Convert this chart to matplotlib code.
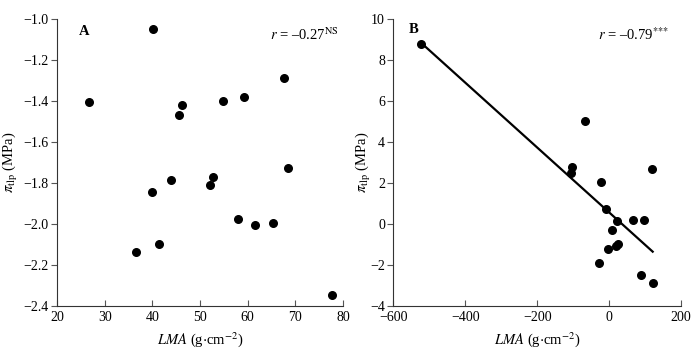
import numpy as np
import matplotlib
matplotlib.use("Agg")
import matplotlib.pyplot as plt

plt.rcParams['font.family'] = ['Liberation Serif', 'DejaVu Serif']
plt.rcParams['mathtext.fontset'] = 'stix'
plt.rcParams['font.size'] = 10.5

# panel A: LMA vs turgor loss point
lma_a = [40.1, 26.7, 45.7, 46.2, 54.9, 59.3, 67.6, 68.5, 43.9, 52.8,
         52.1, 40.0, 57.9, 61.6, 65.4, 41.3, 36.5, 77.6]
tlp_a = [-1.05, -1.406, -1.467, -1.42, -1.40, -1.38, -1.29, -1.73, -1.785, -1.773,
         -1.81, -1.845, -1.977, -2.005, -1.997, -2.10, -2.136, -2.35]

# panel B: phylogenetic contrasts
lma_b = [-524, -68, -102, 118, -105, -22, -9, 66, 98, 22,
         7, -2, 18, 25, -27, 89, 121]
tlp_b = [8.8, 5.0, 2.75, 2.65, 2.5, 2.05, 0.7, 0.2, 0.2, 0.15,
         -0.3, -1.21, -1.1, -0.97, -1.91, -2.52, -2.91]

fig = plt.figure(figsize=(7, 3.57), dpi=100)
ax1 = fig.add_axes([0.0814, 0.1437, 0.4086, 0.8033])
ax2 = fig.add_axes([0.562, 0.1437, 0.411, 0.8033])

ylab = r'$\pi_{\rm tlp}$ (MPa)'
xlab = r'$LMA$ (g$\cdot$cm$^{-2}$)'

for ax in (ax1, ax2):
    ax.spines['top'].set_visible(False)
    ax.spines['right'].set_visible(False)
    for s in ('left', 'bottom'):
        ax.spines[s].set_color('#333333')
    ax.tick_params(axis='y', direction='out', length=4, pad=2, labelsize=10, color='#555555')
    ax.tick_params(axis='x', direction='in', length=4, labelsize=10, color='#555555')
    ax.set_xlabel(xlab, labelpad=5)
    ax.set_ylabel(ylab)

ax1.yaxis.set_label_coords(-0.128, 0.5)
ax2.yaxis.set_label_coords(-0.072, 0.5)

ax1.scatter(lma_a, tlp_a, s=30, color='black', zorder=3)
ax1.set_xlim(20, 80)
ax1.set_ylim(-2.4, -1.0)
ax1.set_xticks(np.arange(20, 81, 10))
yt = np.arange(-2.4, -0.99, 0.2)
ax1.set_yticks(yt)
ax1.set_yticklabels([f'{v:.1f}'.replace('-', '\u2212') for v in yt])
ax1.text(0.075, 0.98, 'A', transform=ax1.transAxes, fontweight='bold', va='top')
ax1.text(0.745, 0.975, '$r$ = \u20130.27$^{\\rm NS}$', transform=ax1.transAxes, va='top')

ax2.scatter(lma_b, tlp_b, s=30, color='black', zorder=3)
slope, icpt = np.polyfit(lma_b, tlp_b, 1)
xs = np.array([min(lma_b), max(lma_b)])
ax2.plot(xs, slope * xs + icpt, color='black', lw=1.6)
ax2.set_xlim(-600, 200)
ax2.set_ylim(-4, 10)
ax2.set_xticks(np.arange(-600, 201, 200))
ax2.set_yticks(np.arange(-4, 11, 2))
ax2.text(0.055, 0.985, 'B', transform=ax2.transAxes, fontweight='bold', va='top')
ax2.text(0.71, 0.975, '$r$ = \u20130.79$^{{*}{*}{*}}$', transform=ax2.transAxes, va='top')

fig.savefig('out.png', dpi=100)
